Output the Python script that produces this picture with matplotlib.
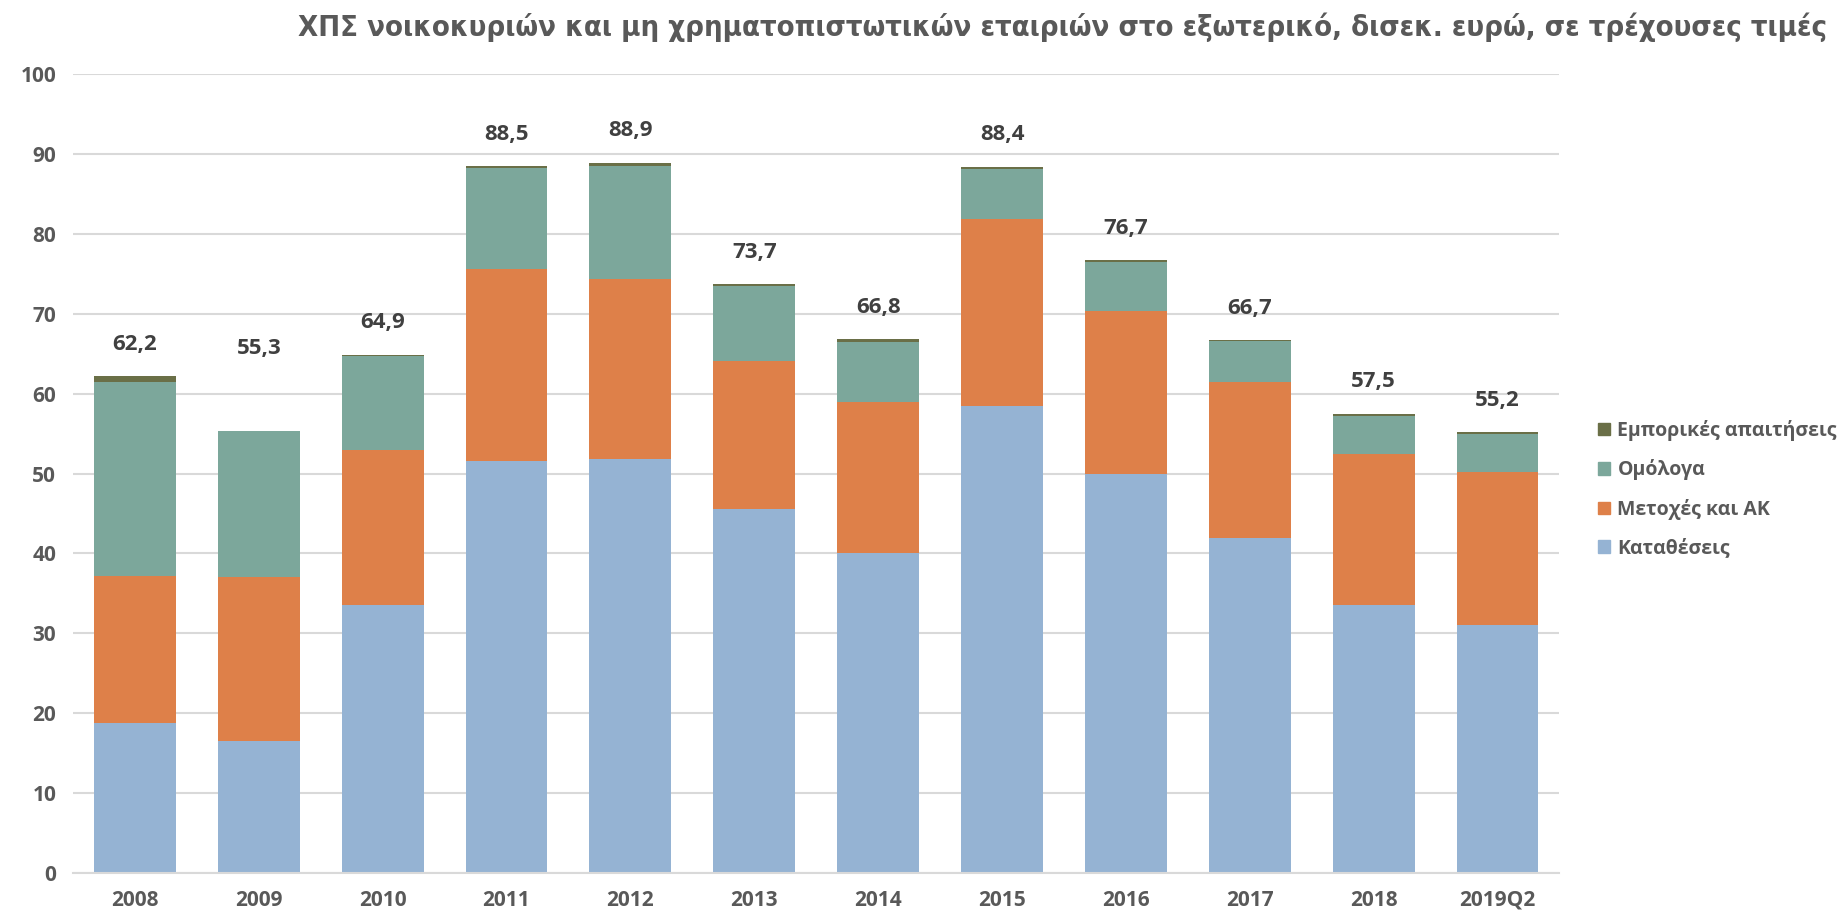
import numpy as np
import matplotlib.pyplot as plt
from matplotlib.patches import Patch

# Data (bn euro, current prices)
categories = ['2008', '2009', '2010', '2011', '2012', '2013', '2014', '2015',
              '2016', '2017', '2018', '2019Q2']
deposits = [18.8, 16.5, 33.6, 51.6, 51.8, 45.6, 40.0, 58.4, 50.0, 41.9, 33.6, 31.1]
equities = [18.4, 20.5, 19.3, 24.0, 22.5, 18.5, 19.0, 23.5, 20.4, 19.6, 18.8, 19.1]
bonds = [24.3, 18.3, 11.8, 12.7, 14.2, 9.4, 7.5, 6.2, 6.1, 5.1, 4.8, 4.7]
trade = [0.7, 0.05, 0.2, 0.2, 0.4, 0.2, 0.3, 0.3, 0.2, 0.1, 0.3, 0.3]
totals = [62.2, 55.3, 64.9, 88.5, 88.9, 73.7, 66.8, 88.4, 76.7, 66.7, 57.5, 55.2]

series = [
    ('Καταθέσεις', deposits, '#95B3D3'),
    ('Μετοχές και ΑΚ', equities, '#DE8049'),
    ('Ομόλογα', bonds, '#7CA79B'),
    ('Εμπορικές απαιτήσεις', trade, '#6A6F47'),
]

grey = '#595959'
dark = '#404040'
font = ['Open Sans', 'DejaVu Sans']

fig = plt.figure(figsize=(18.42, 9.14), dpi=100)
ax = fig.add_axes([0.0396, 0.0449, 0.807, 0.874])

x = np.arange(len(categories))
bottom = np.zeros(len(categories))
for name, vals, color in series:
    ax.bar(x, vals, width=0.66, bottom=bottom, color=color, label=name, zorder=2)
    bottom += np.array(vals)

# total labels above the bars (2009 label sits higher in the original)
for i, t in enumerate(totals):
    y = t + 4
    if categories[i] == '2009':
        y = t + 10.3
    ax.text(x[i], y, f'{t:.1f}'.replace('.', ','), ha='center', va='center',
            fontsize=16, fontweight='bold', color=dark, family=font)

ax.set_ylim(0, 100)
ax.set_xlim(-0.5, len(categories) - 0.5)
ax.set_yticks(np.arange(0, 101, 10))
ax.set_xticks(x)
ax.set_xticklabels(categories)
ax.yaxis.grid(True, color='#D9D9D9', linewidth=1.5, zorder=0)
ax.set_axisbelow(True)
for s in ['top', 'right', 'left']:
    ax.spines[s].set_visible(False)
ax.spines['bottom'].set_color('#D9D9D9')
ax.spines['bottom'].set_linewidth(1.5)
ax.tick_params(length=0, pad=12)
for lab in ax.get_xticklabels() + ax.get_yticklabels():
    lab.set_fontsize(15)
    lab.set_fontweight('bold')
    lab.set_color(grey)
    lab.set_family(font)

handles = [Patch(color=c, label=n) for n, _, c in series][::-1]
leg = fig.legend(handles=handles, loc='center left', bbox_to_anchor=(0.858, 0.465),
                 frameon=False, handlelength=0.6, handleheight=0.6, handletextpad=0.4,
                 labelspacing=0.95, prop={'family': font, 'weight': 'bold', 'size': 14})
for t in leg.get_texts():
    t.set_color(grey)

fig.text(0.992, 0.970, 'ΧΠΣ νοικοκυριών και μη χρηματοπιστωτικών εταιριών στο εξωτερικό, δισεκ. ευρώ, σε τρέχουσες τιμές',
         ha='right', va='center', fontsize=21, fontweight='bold', color=grey,
         fontstretch='condensed', family=['DejaVu Sans', 'Open Sans'])

fig.savefig('out.png', dpi=100)
